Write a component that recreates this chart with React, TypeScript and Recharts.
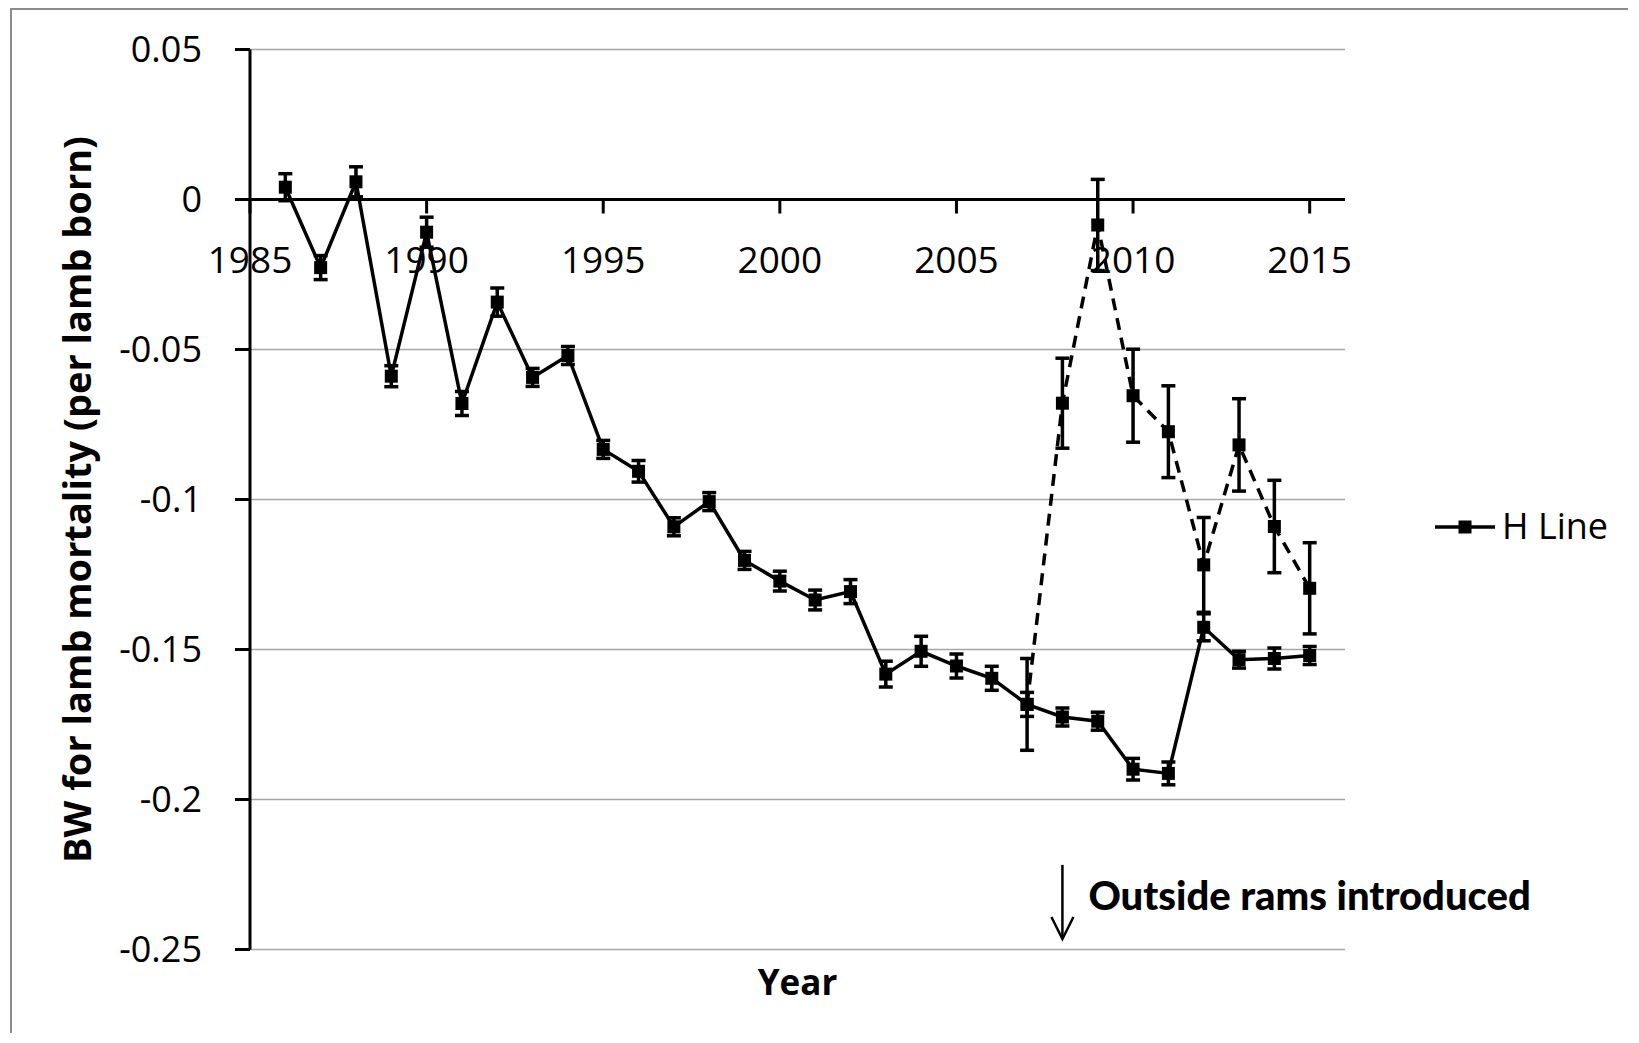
import React from 'react';
import {
  LineChart,
  Line,
  XAxis,
  YAxis,
  CartesianGrid,
  ErrorBar,
  ReferenceLine,
  Legend,
} from 'recharts';

// ---------- data ----------
const years = [1986, 1987, 1988, 1989, 1990, 1991, 1992, 1993, 1994, 1995, 1996, 1997, 1998, 1999, 2000,
  2001, 2002, 2003, 2004, 2005, 2006, 2007, 2008, 2009, 2010, 2011, 2012, 2013, 2014, 2015];
const hLine = [0.0041, -0.0227, 0.0059, -0.0589, -0.0109, -0.068, -0.0342, -0.0593, -0.052, -0.0833,
  -0.0906, -0.1091, -0.1007, -0.1203, -0.1272, -0.1335, -0.1307, -0.1582, -0.1506, -0.1555,
  -0.1596, -0.1683, -0.1725, -0.1739, -0.1899, -0.1913, -0.1426, -0.1534, -0.153, -0.152];
const hLineErr = [0.0045, 0.004, 0.005, 0.0035, 0.005, 0.004, 0.0047, 0.003, 0.003, 0.003,
  0.0036, 0.003, 0.003, 0.003, 0.0033, 0.0033, 0.004, 0.0043, 0.005, 0.004,
  0.004, 0.004, 0.003, 0.003, 0.0036, 0.0038, 0.0045, 0.0028, 0.0035, 0.003];

const outYears = [2007, 2008, 2009, 2010, 2011, 2012, 2013, 2014, 2015];
const outLine = [-0.1683, -0.0679, -0.0085, -0.0654, -0.0774, -0.1218, -0.0818, -0.109, -0.1296];
const outLineErr = [0.0153, 0.015, 0.0152, 0.0155, 0.0153, 0.0158, 0.0154, 0.0154, 0.0152];

const xTicks = [1985, 1990, 1995, 2000, 2005, 2010, 2015];
const yTicks = [0.05, 0, -0.05, -0.1, -0.15, -0.2, -0.25];
const yTickLabels = ['0.05', '0', '-0.05', '-0.1', '-0.15', '-0.2', '-0.25'];

const annotationText = 'Outside rams introduced';
const annotationArrow = [{ x: 2008, y: -0.2218 }, { x: 2008, y: -0.2465 }];

const legendLabel = 'H Line';

const X_MIN = 1985;
const X_MAX = 2016;
const Y_MIN = -0.25;
const Y_MAX = 0.05;

// ---------- layout ----------
const W = 1620;
const H = 1025;
const M_TOP = 41.5;
const LEGEND_W = 200;
const M_RIGHT = 283 - LEGEND_W;
const Y_AXIS_W = 242;
const X_AXIS_H = 60;
const M_BOTTOM = 23.5;
const PLOT_H = H - M_TOP - M_BOTTOM - X_AXIS_H;
const ZERO_Y = M_TOP + ((Y_MAX - 0) / (Y_MAX - Y_MIN)) * PLOT_H;

const FONT = '"Open Sans", "Noto Sans", sans-serif';
const SW = 3.5;

const solidData = years.map((y, i) => ({ year: y, value: hLine[i], err: hLineErr[i] }));
const dashedData = outYears.map((y, i) => ({ year: y, value: outLine[i], err: outLineErr[i] }));

const SquareDot = (p: any) => {
  if (p.cx == null || p.cy == null) return <g key={p.index} />;
  return <rect key={p.index} x={p.cx - 6.5} y={p.cy - 6.5} width={13} height={13} fill="#000" />;
};

const XTick = (p: any) => {
  const { x, payload } = p;
  return (
    <g>
      <line x1={x} x2={x} y1={ZERO_Y} y2={ZERO_Y + 14} stroke="#000" strokeWidth={3} />
      <text x={x} y={ZERO_Y + 73} textAnchor="middle" fontFamily={FONT} fontSize={37} fill="#000">
        {payload.value}
      </text>
    </g>
  );
};

const YLabel = (p: any) => {
  const vb = p.viewBox || { x: 0, y: 0, width: 0, height: 0 };
  const cx = vb.x + 68;
  const cy = vb.y + vb.height / 2;
  return (
    <text
      x={cx}
      y={cy}
      transform={`rotate(-90, ${cx}, ${cy})`}
      textAnchor="middle"
      dominantBaseline="central"
      fontFamily={FONT}
      fontWeight={700}
      fontSize={38}
      fill="#000"
    >
      BW for lamb mortality (per lamb born)
    </text>
  );
};

const ArrowShape = (p: any) => {
  const { x1, y1, x2, y2 } = p;
  return (
    <g>
      <line x1={x1} y1={y1} x2={x2} y2={y2} stroke="#000" strokeWidth={2.5} />
      <polyline
        points={`${x2 - 11},${y2 - 22} ${x2},${y2} ${x2 + 11},${y2 - 22}`}
        fill="none"
        stroke="#000"
        strokeWidth={2.5}
      />
    </g>
  );
};

const AnnoLabel = (p: any) => {
  const vb = p.viewBox || { x: 0, y: 0 };
  return (
    <text
      x={vb.x + 26}
      y={Math.min(vb.y, vb.y + (vb.height || 0)) + 45}
      fontFamily='Lato, "DejaVu Sans", sans-serif'
      fontWeight={900}
      fontSize={40}
      fill="#000"
    >
      {annotationText}
    </text>
  );
};

const LegendContent = () => (
  <svg width={LEGEND_W} height={56} style={{ overflow: 'visible', display: 'block' }}>
    <line x1={0} x2={60} y1={24} y2={24} stroke="#000" strokeWidth={SW} />
    <rect x={23.5} y={17.5} width={13} height={13} fill="#000" />
    <text x={67} y={36} fontFamily={FONT} fontSize={36} fill="#000">
      {legendLabel}
    </text>
  </svg>
);

export default function App() {
  return (
    <div style={{ position: 'relative', width: W, height: H }}>
      <div
        style={{
          position: 'absolute',
          left: 2,
          top: 0,
          width: W - 2,
          height: H,
          borderLeft: '2px solid #8c8c8c',
          borderTop: '2px solid #8c8c8c',
          boxSizing: 'border-box',
        }}
      />
      <LineChart
        width={W}
        height={H}
        margin={{ top: M_TOP, right: M_RIGHT, bottom: M_BOTTOM, left: 0 }}
        style={{ position: 'absolute', left: 0, top: 0 }}
      >
        <CartesianGrid horizontal vertical={false} stroke="#a6a6a6" strokeWidth={1.5} />
        <XAxis
          type="number"
          dataKey="year"
          domain={[X_MIN, X_MAX]}
          ticks={xTicks}
          interval={0}
          allowDataOverflow
          axisLine={false}
          tickLine={false}
          tick={<XTick />}
          height={X_AXIS_H}
          label={{
            value: 'Year',
            position: 'insideTop',
            offset: 20.5,
            style: { fontFamily: FONT, fontWeight: 700, fontSize: 35, fill: '#000' },
          }}
        />
        <YAxis
          type="number"
          domain={[Y_MIN, Y_MAX]}
          ticks={yTicks}
          interval={0}
          allowDataOverflow
          width={Y_AXIS_W}
          axisLine={{ stroke: '#000', strokeWidth: 3 }}
          tickLine={{ stroke: '#000', strokeWidth: 3 }}
          tickSize={15}
          tickMargin={33}
          tickFormatter={(v: number, i: number) => yTickLabels[i]}
          tick={{ fontFamily: FONT, fontSize: 36, fill: '#000' }}
          label={<YLabel />}
        />
        <ReferenceLine y={0} stroke="#000" strokeWidth={3} />
        <ReferenceLine
          segment={annotationArrow}
          shape={<ArrowShape />}
          label={<AnnoLabel />}
          ifOverflow="visible"
        />
        <Line
          data={dashedData}
          dataKey="value"
          stroke="#000"
          strokeWidth={SW}
          strokeDasharray="12 8"
          dot={SquareDot}
          activeDot={false}
          isAnimationActive={false}
          legendType="none"
        >
          <ErrorBar dataKey="err" direction="y" width={7} stroke="#000" strokeWidth={SW} />
        </Line>
        <Line
          data={solidData}
          dataKey="value"
          name={legendLabel}
          stroke="#000"
          strokeWidth={SW}
          dot={SquareDot}
          activeDot={false}
          isAnimationActive={false}
        >
          <ErrorBar dataKey="err" direction="y" width={7} stroke="#000" strokeWidth={SW} />
        </Line>
        <Legend
          layout="horizontal"
          verticalAlign="middle"
          align="right"
          content={<LegendContent />}
          wrapperStyle={{ left: 1427, top: 495, width: LEGEND_W, height: 56 }}
        />
      </LineChart>
    </div>
  );
}
